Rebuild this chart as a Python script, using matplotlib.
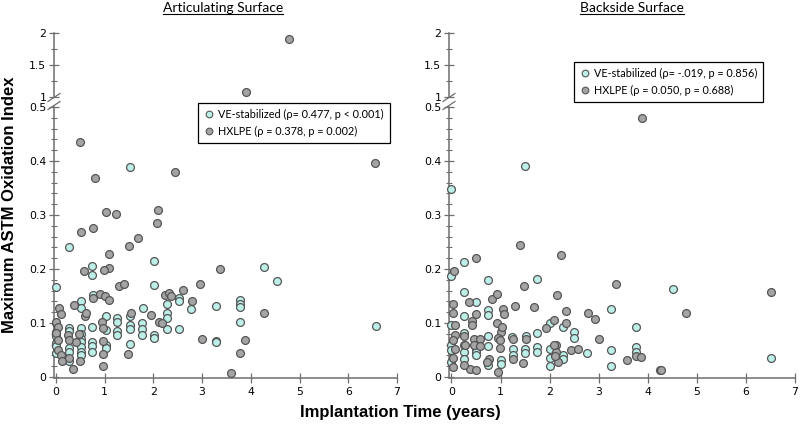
import numpy as np
import matplotlib
matplotlib.use("Agg")
import matplotlib.pyplot as plt
from matplotlib.lines import Line2D
from matplotlib.ticker import MultipleLocator, FixedLocator, FuncFormatter

# ---------------- data ----------------
panel_titles = ["Articulating Surface", "Backside Surface"]
legend_ve = ["VE-stabilized (\u03c1= 0.477, p < 0.001)", "VE-stabilized (\u03c1= -.019, p = 0.856)"]
legend_hx = ["HXLPE (\u03c1 = 0.378, p = 0.002)", "HXLPE (\u03c1 = 0.050, p = 0.688)"]
x_ticks = [0, 1, 2, 3, 4, 5, 6, 7]
y_ticks_low = [0, 0.1, 0.2, 0.3, 0.4, 0.5]
y_ticks_up = [1, 1.5, 2]

art_ve_x = [0.27, 1.52, 0.75, 2.01, 0.01, 0.75, 2.01, 0.76, 0.52, 0.51, 1.78, 2.27, 2.27, 2.28,
            2.52, 2.52, 2.78, 3.28, 1.02, 1.52, 1.52, 1.52, 1.52, 1.26, 1.26, 1.26, 1.26,
            1.77, 1.77, 1.77, 2.01, 2.01, 2.27, 2.52, 3.28, 3.28, 3.77, 3.77, 3.77, 3.77,
            4.28, 4.53, 6.56, 1.02, 1.02, 1.02, 0.75, 0.75, 0.75, 0.75,
            0.51, 0.51, 0.51, 0.51, 0.51, 0.51, 0.51, 0.27, 0.27, 0.27, 0.27, 0.27,
            0.00, 0.00, 0.00, 0.00, 0.00, 0.00]
art_ve_y = [0.240, 0.388, 0.205, 0.214, 0.167, 0.189, 0.170, 0.152, 0.141, 0.128, 0.127, 0.135, 0.118, 0.110,
            0.147, 0.140, 0.126, 0.132, 0.113, 0.113, 0.096, 0.088, 0.061, 0.110, 0.102, 0.085, 0.077,
            0.100, 0.088, 0.078, 0.078, 0.072, 0.089, 0.089, 0.067, 0.064, 0.143, 0.136, 0.129, 0.101,
            0.204, 0.178, 0.094, 0.087, 0.059, 0.053, 0.093, 0.064, 0.058, 0.046,
            0.090, 0.079, 0.071, 0.065, 0.056, 0.047, 0.041, 0.091, 0.085, 0.053, 0.047, 0.030,
            0.100, 0.084, 0.075, 0.062, 0.057, 0.044]

art_hx_x = [4.78, 3.91, 0.50, 0.80, 2.45, 1.02, 1.23, 2.10, 2.08, 0.51, 0.76, 1.69, 1.50, 1.09, 1.09,
            0.58, 0.99, 3.37, 6.54, 4.26, 2.95, 2.60, 2.80, 3.00, 3.87, 3.78, 3.60,
            1.30, 1.39, 0.06, 0.10, 0.37, 0.59, 0.62, 0.77, 0.90, 1.00, 1.09, 0.01, 0.05, 0.01, 0.05,
            0.05, 0.10, 0.12, 0.25, 0.27, 0.27, 0.35, 0.49, 0.42, 0.48, 0.94, 0.97, 0.97, 0.97, 0.96,
            1.47, 1.54, 1.95, 2.12, 2.18, 2.23, 2.33, 2.36]
art_hx_y = [1.906, 1.080, 0.436, 0.369, 0.379, 0.305, 0.301, 0.309, 0.286, 0.269, 0.275, 0.258, 0.243, 0.227, 0.201,
            0.197, 0.198, 0.200, 0.397, 0.119, 0.173, 0.161, 0.141, 0.070, 0.068, 0.044, 0.008,
            0.169, 0.173, 0.128, 0.116, 0.134, 0.112, 0.119, 0.146, 0.153, 0.149, 0.142, 0.102, 0.093, 0.081, 0.068,
            0.050, 0.041, 0.030, 0.078, 0.068, 0.035, 0.015, 0.030, 0.065, 0.080, 0.102, 0.090, 0.067, 0.043, 0.020,
            0.042, 0.118, 0.115, 0.102, 0.100, 0.152, 0.155, 0.149]

back_ve_x = [1.50, 0.00, 0.26, 0.00, 0.75, 1.75, 0.26, 0.50, 0.75, 0.75, 0.26, 0.00, 1.24, 1.52, 1.75,
             2.00, 2.27, 2.50, 2.50, 3.25, 3.25, 3.25, 3.77, 3.77, 3.77, 4.51, 6.51,
             0.26, 0.26, 0.26, 0.26, 0.00, 0.00, 0.00, 0.50, 0.50, 0.50, 0.50, 0.50,
             0.75, 0.75, 0.75, 1.01, 1.01, 1.25, 1.25, 1.50, 1.50, 1.75, 1.75, 2.00, 2.00, 2.00,
             2.27, 2.27, 2.76]
back_ve_y = [0.391, 0.348, 0.212, 0.187, 0.180, 0.182, 0.158, 0.139, 0.124, 0.115, 0.112, 0.096, 0.074, 0.076, 0.082,
             0.099, 0.093, 0.083, 0.073, 0.126, 0.049, 0.020, 0.093, 0.055, 0.047, 0.162, 0.035,
             0.081, 0.059, 0.047, 0.033, 0.060, 0.050, 0.028, 0.068, 0.061, 0.052, 0.046, 0.040,
             0.075, 0.058, 0.022, 0.031, 0.024, 0.052, 0.040, 0.052, 0.044, 0.055, 0.047, 0.051, 0.035, 0.020,
             0.040, 0.033, 0.045]

back_hx_x = [3.89, 1.40, 2.23, 0.50, 0.05, 0.04, 0.36, 0.82, 0.93, 1.48, 2.15, 1.29, 1.68, 1.06, 1.08,
             2.34, 2.78, 2.93, 3.36, 0.04, 0.07, 0.41, 0.51, 0.42, 0.07, 0.92, 1.01, 1.04, 0.95,
             0.45, 0.58, 0.45, 0.58, 1.52, 1.93, 2.08, 2.34, 2.13, 2.13, 2.18, 2.43, 2.58, 3.00,
             3.58, 3.77, 3.86, 4.24, 4.26, 4.77, 6.51, 1.26, 1.45, 0.95, 0.38, 0.26, 0.04, 0.04,
             0.07, 0.77, 0.98, 0.98, 1.25, 0.72, 0.51, 0.28, 0.04, 2.08, 2.10, 0.26]
back_hx_y = [0.479, 0.244, 0.226, 0.220, 0.197, 0.136, 0.138, 0.144, 0.154, 0.169, 0.152, 0.132, 0.130, 0.125, 0.116,
             0.122, 0.119, 0.107, 0.172, 0.118, 0.096, 0.104, 0.116, 0.096, 0.078, 0.100, 0.084, 0.092, 0.072,
             0.070, 0.070, 0.060, 0.057, 0.070, 0.090, 0.105, 0.100, 0.059, 0.047, 0.028, 0.050, 0.051, 0.071,
             0.032, 0.038, 0.036, 0.013, 0.013, 0.118, 0.158, 0.033, 0.026, 0.010, 0.014, 0.022, 0.018, 0.035,
             0.052, 0.033, 0.069, 0.053, 0.070, 0.028, 0.013, 0.060, 0.068, 0.060, 0.039, 0.076]

# ---------------- style ----------------
VE_FACE = "#bdefe9"
HX_FACE = "#a4a4a4"
EDGE = "#555555"
AX_COL = "#6e6e6e"
MS = 32

W, H = 800, 429
fig = plt.figure(figsize=(8.0, 4.29), dpi=100)
fig.patch.set_facecolor("white")


def fx(px):
    return px / W


def fy(py):
    return 1 - py / H


panels = [
    dict(left=54, right=397, xmin=-0.04, ve=(art_ve_x, art_ve_y), hx=(art_hx_x, art_hx_y),
         title_x=223, leg=(198, 103)),
    dict(left=449, right=795, xmin=-0.05, ve=(back_ve_x, back_ve_y), hx=(back_hx_x, back_hx_y),
         title_x=632, leg=(574, 62)),
]

low_bot, low_top = 378, 107
up_bot, up_top = 97, 33

tick_fmt = FuncFormatter(lambda v, p: ("%g" % round(v, 3)))

titles = []
for i, P in enumerate(panels):
    axl = fig.add_axes([fx(P["left"]), fy(low_bot), fx(P["right"] - P["left"]), (low_bot - low_top) / H])
    axu = fig.add_axes([fx(P["left"]), fy(up_bot), fx(P["right"] - P["left"]), (up_bot - up_top) / H])
    for ax in (axl, axu):
        ax.set_facecolor("none")
        for s in ("top", "right"):
            ax.spines[s].set_visible(False)
        ax.spines["left"].set_color(AX_COL)
        ax.spines["left"].set_linewidth(1.1)
        ax.set_xlim(P["xmin"], 7.0)
        ax.tick_params(axis="y", which="major", direction="inout", length=7, width=0.9,
                       colors=AX_COL, labelcolor="black", labelsize=7.8, pad=2)
        ax.tick_params(axis="y", which="minor", direction="inout", length=4.5, width=0.8, colors=AX_COL)
    axu.spines["bottom"].set_visible(False)
    axu.set_xticks([])
    axl.spines["bottom"].set_color(AX_COL)
    axl.spines["bottom"].set_linewidth(1.1)

    axl.set_ylim(-0.002, 0.5)
    axl.yaxis.set_major_locator(FixedLocator(y_ticks_low))
    axl.yaxis.set_minor_locator(MultipleLocator(0.02))
    axl.yaxis.set_major_formatter(tick_fmt)
    axu.set_ylim(1.0, 2.0)
    axu.yaxis.set_major_locator(FixedLocator(y_ticks_up))
    axu.yaxis.set_minor_locator(MultipleLocator(0.25))
    axu.yaxis.set_major_formatter(tick_fmt)

    axl.set_xticks(x_ticks)
    axl.tick_params(axis="x", which="major", direction="inout", length=7, width=0.9,
                    colors=AX_COL, labelcolor="black", labelsize=7.8, pad=3)

    for (xs, ys), face in ((P["ve"], VE_FACE), (P["hx"], HX_FACE)):
        xs = np.asarray(xs)
        ys = np.asarray(ys)
        lo = ys < 0.75
        axl.scatter(xs[lo], ys[lo], s=MS, c=face, edgecolors=EDGE, linewidths=0.9, clip_on=False, zorder=3)
        axu.scatter(xs[~lo], ys[~lo], s=MS, c=face, edgecolors=EDGE, linewidths=0.9, clip_on=False, zorder=3)

    # axis break marks
    sx = P["left"]
    for by in (97.5, 105.5):
        fig.add_artist(Line2D([fx(sx - 6), fx(sx + 6)], [fy(by + 4), fy(by - 4)], color=AX_COL, lw=0.9))

    # legend
    handles = [Line2D([], [], ls="none", marker="o", ms=4.8, mfc=VE_FACE, mec=EDGE, mew=0.8),
               Line2D([], [], ls="none", marker="o", ms=4.8, mfc=HX_FACE, mec=EDGE, mew=0.8)]
    lg = fig.legend(handles, [legend_ve[i], legend_hx[i]], loc="upper left",
                    bbox_to_anchor=(fx(P["leg"][0]), fy(P["leg"][1])),
                    frameon=True, fancybox=False, edgecolor="black", framealpha=1,
                    prop=dict(family="Lato", size=7.8), handletextpad=0.3, handlelength=1.0,
                    borderpad=0.55, labelspacing=0.55, borderaxespad=0)
    lg.get_frame().set_linewidth(0.9)

    t = fig.text(fx(P["title_x"]), fy(8), panel_titles[i], ha="center", va="center",
                 family="Lato", fontsize=10)
    titles.append(t)

fig.text(fx(10), fy(205), "Maximum ASTM Oxidation Index", rotation=90, ha="center", va="center",
         family="Liberation Sans", fontweight="bold", fontsize=12)
fig.text(fx(400), fy(413), "Implantation Time (years)", ha="center", va="center",
         family="Liberation Sans", fontweight="bold", fontsize=12)

# underline titles
fig.canvas.draw()
r = fig.canvas.get_renderer()
for t in titles:
    bb = t.get_window_extent(r)
    x0, x1 = bb.x0 / W, bb.x1 / W
    yb = (bb.y0 + 0.5) / H
    fig.add_artist(Line2D([x0, x1], [yb, yb], color="black", lw=0.8))

fig.savefig("out.png", dpi=100, facecolor="white")
